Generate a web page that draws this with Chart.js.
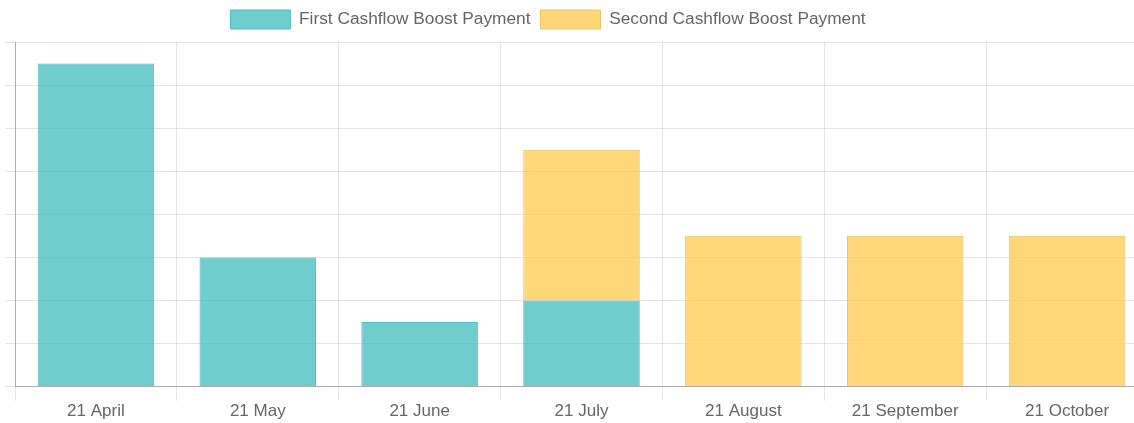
<!DOCTYPE html>
<html>
<head>
<meta charset="utf-8">
<script src="https://cdn.jsdelivr.net/npm/chart.js@4"></script>
<style>
html, body { margin: 0; padding: 0; overflow: hidden; background: #fff; }
#wrap { position: relative; width: 1148px; height: 423px; }
</style>
</head>
<body>
<div id="wrap"><canvas id="c"></canvas></div>
<script>
const categories = ['21 April', '21 May', '21 June', '21 July', '21 August', '21 September', '21 October'];
const firstPayment = [7.5, 3, 1.5, 2, null, null, null];
const secondPayment = [null, null, null, 3.5, 3.5, 3.5, 3.5];
const seriesNames = ['First Cashflow Boost Payment', 'Second Cashflow Boost Payment'];

const FONT = "Arial, 'Liberation Sans', Helvetica, sans-serif";

const legendShift = {
  id: 'legendShift',
  afterLayout(chart) {
    const lg = chart.legend;
    if (!lg) return;
    lg.right = lg.left + 1086;
    lg.top -= 3; lg.bottom -= 3;
  }
};

new Chart(document.getElementById('c'), {
  type: 'bar',
  data: {
    labels: categories,
    datasets: [
      {
        label: seriesNames[0],
        data: firstPayment,
        backgroundColor: 'rgba(75, 192, 192, 0.8)',
        borderColor: 'rgba(75, 192, 192, 1)',
        borderWidth: 1
      },
      {
        label: seriesNames[1],
        data: secondPayment,
        backgroundColor: 'rgba(255, 205, 86, 0.8)',
        borderColor: 'rgba(235, 195, 100, 1)',
        borderWidth: 1
      }
    ]
  },
  options: {
    responsive: true,
    maintainAspectRatio: false,
    animation: false,
    layout: { padding: { left: 5, right: 0, top: 3, bottom: 0 } },
    plugins: {
      legend: {
        position: 'top',
        labels: {
          boxWidth: 60,
          boxHeight: 19,
          padding: 10,
          color: '#666',
          font: { family: FONT, size: 17.3 }
        }
      },
      tooltip: { enabled: false }
    },
    scales: {
      x: {
        stacked: true,
        grid: { color: 'rgba(0,0,0,0.1)', tickLength: 14, offset: true },
        border: { color: 'rgba(0,0,0,0.25)' },
        ticks: { color: '#666', font: { family: FONT, size: 17 }, padding: 1, maxRotation: 0 }
      },
      y: {
        stacked: true,
        min: 0,
        max: 8,
        grid: { color: 'rgba(0,0,0,0.1)', tickLength: 10 },
        border: { color: 'rgba(0,0,0,0.25)' },
        ticks: { display: false, stepSize: 1 }
      }
    }
  },
  plugins: [legendShift]
});
</script>
</body>
</html>
